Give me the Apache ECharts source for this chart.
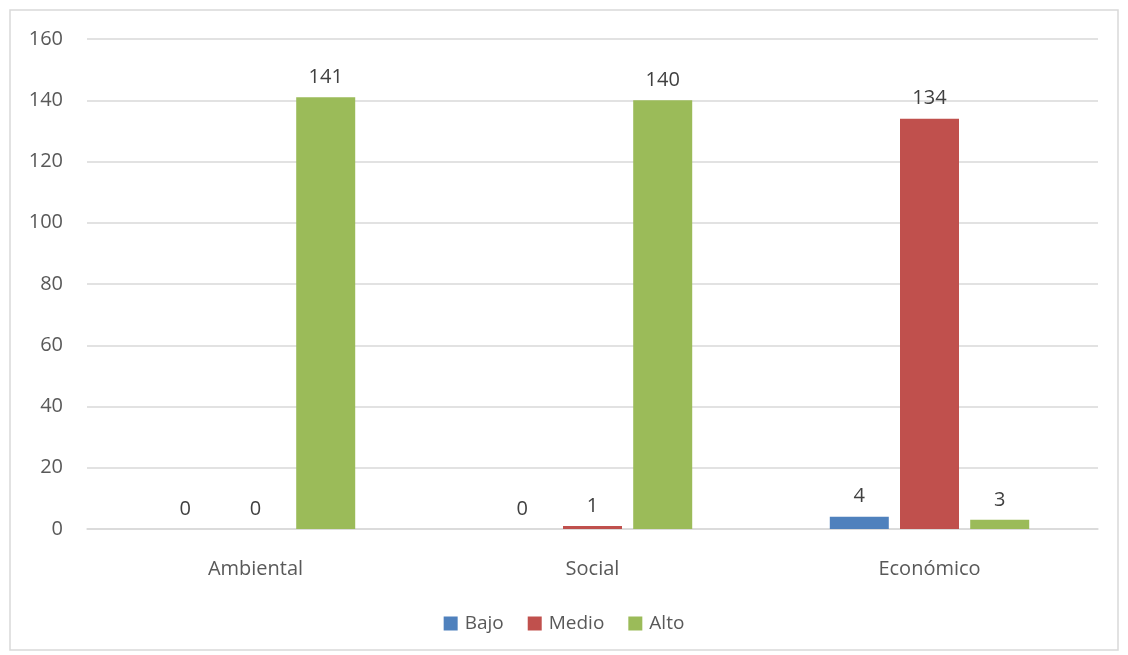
<!DOCTYPE html>
<html>
<head>
<meta charset="utf-8">
<script src="https://cdn.jsdelivr.net/npm/echarts@6/dist/echarts.min.js"></script>
<style>
html,body{margin:0;padding:0;background:#fff;}
#c{width:1128px;height:655px;}
</style>
</head>
<body>
<div id="c"></div>
<script>
const categories = ['Ambiental', 'Social', 'Económico'];
const seriesNames = ['Bajo', 'Medio', 'Alto'];
const bajo = [0, 0, 4];
const medio = [0, 1, 134];
const alto = [141, 140, 3];
const colors = ['#4F81BD', '#C0504D', '#9BBB59'];

const chart = echarts.init(document.getElementById('c'));
const font = '"Open Sans", "Liberation Sans", sans-serif';
const txt = '#595959';
const mk = (name, data, color) => ({
  name, type: 'bar', data, barWidth: 59, barGap: '19%',
  itemStyle: { color },
  label: { show: true, position: 'top', distance: 10, color: '#404040', fontSize: 20, fontFamily: font }
});
chart.setOption({
  animation: false,
  graphic: [{ type: 'rect', shape: { x: 10, y: 10, width: 1108, height: 640 }, style: { fill: 'none', stroke: '#d9d9d9', lineWidth: 1.5 } }],
  legend: {
    bottom: 17, left: 'center', itemWidth: 14, itemHeight: 14, itemGap: 24,
    icon: 'rect',
    textStyle: { color: txt, fontSize: 19, fontFamily: font, padding: [0, 0, 0, 2] }
  },
  grid: { left: 87, right: 30, top: 39, bottom: 126 },
  xAxis: {
    type: 'category', data: categories,
    axisLine: { lineStyle: { color: '#d9d9d9', width: 1.5 } },
    axisTick: { show: false },
    axisLabel: { color: txt, fontSize: 20, fontFamily: font, margin: 30 }
  },
  yAxis: {
    type: 'value', min: 0, max: 160, interval: 20,
    axisLine: { show: false }, axisTick: { show: false },
    splitLine: { lineStyle: { color: '#d9d9d9', width: 1.5 } },
    axisLabel: { color: txt, fontSize: 20, fontFamily: font, margin: 24 }
  },
  series: [mk(seriesNames[0], bajo, colors[0]), mk(seriesNames[1], medio, colors[1]), mk(seriesNames[2], alto, colors[2])]
});
</script>
</body>
</html>
